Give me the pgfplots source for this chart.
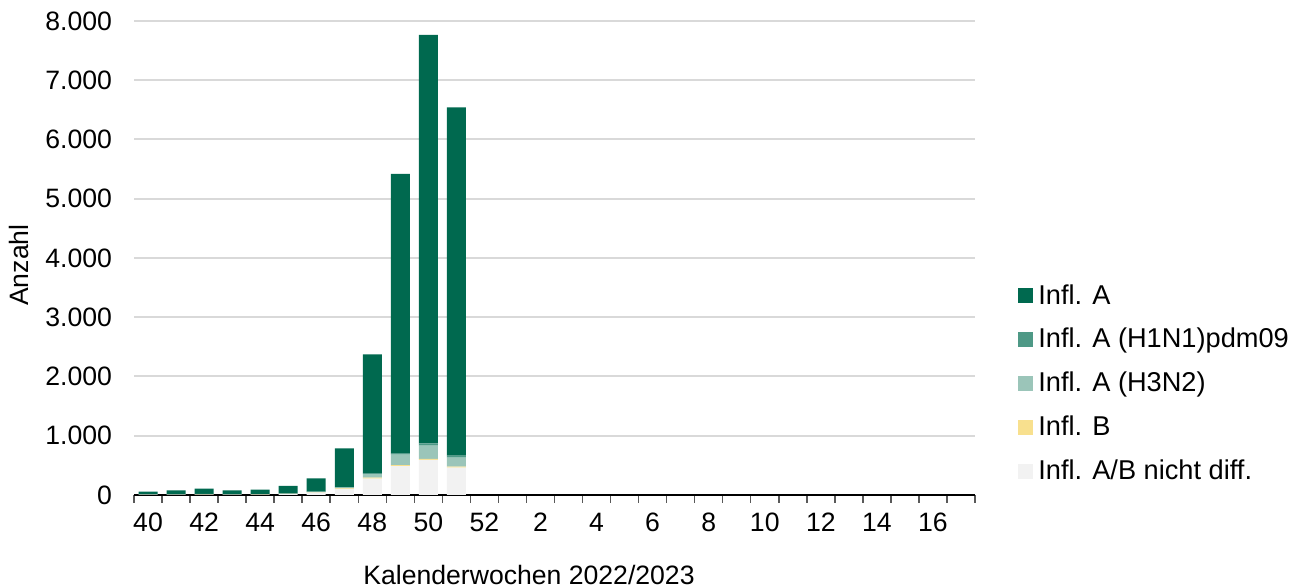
\documentclass[border=0pt]{standalone}
\usepackage{pgfplots}
\pgfplotsset{compat=1.18}
\usepackage{pgfplotstable}
\usepackage{fontspec}
\setmainfont{Liberation Sans}

\definecolor{inflA}{RGB}{0,105,79}
\definecolor{inflH1}{RGB}{78,153,134}
\definecolor{inflH3}{RGB}{155,197,185}
\definecolor{inflB}{RGB}{248,224,142}
\definecolor{inflND}{RGB}{242,242,242}
\definecolor{gridgray}{RGB}{217,217,217}

% week index (0 = KW 40), nicht diff, B, H3N2, H1N1pdm09, A
\pgfplotstableread{
idx ND  B  H3  H1  A
0   5   1  3   2   45
1   5   1  3   2   68
2   8   2  5   2   90
3   6   2  3   1   67
4   8   2  4   1   75
5   15  3  5   2   127
6   40  5  8   3   225
7   100 10 15  5   658
8   275 17 62  8   2012
9   489 17 174 17  4721
10  591 17 224 40  6892
11  461 17 152 33  5880
}\grippe

\newcommand{\lf}{\fontsize{13.6}{16}\selectfont}
\newcommand{\af}{\fontsize{13.3}{16}\selectfont}

\begin{document}
\begin{tikzpicture}
\useasboundingbox (0,0) rectangle (652pt,293.5pt);
\begin{axis}[
  at={(67pt,46pt)}, anchor=south west,
  scale only axis, width=420.5pt, height=237pt,
  ybar stacked, bar width=9.5pt,
  xmin=-0.5, xmax=29.5, ymin=0, ymax=8000,
  axis x line*=bottom, axis y line*=left,
  separate axis lines,
  x axis line style={black, line width=0.75pt},
  y axis line style={draw=none},
  xtick={0,2,...,28},
  xticklabels={40,42,44,46,48,50,52,2,4,6,8,10,12,14,16},
  minor xtick={-0.5,0.5,...,29.5},
  tick align=outside,
  major tick length=0pt, minor tick length=4pt,
  minor tick style={black!65, line width=0.75pt},
  ytick={0,1000,...,8000},
  ytick style={draw=none},
  ymajorgrids, grid style={gridgray, line width=1pt},
  scaled y ticks=false,
  /pgf/number format/.cd, set thousands separator={.}, assume math mode=true,
  /pgfplots/.cd,
  every tick label/.append style={font=\af},
  yticklabel style={xshift=-7.5pt},
  xticklabel style={yshift=-5.5pt},
  label style={font=\af},
  xlabel={Kalenderwochen 2022/2023},
  xlabel style={at={(axis description cs:0.4697,-0.1688)}, anchor=center},
  ylabel={Anzahl},
  ylabel style={at={(axis description cs:-0.1370,0.485)}, anchor=center},
  reverse legend,
  legend cell align=left,
  legend image code/.code={\fill[#1] (0pt,-2.85pt) rectangle (7.5pt,4.65pt);},
  legend style={at={(axis description cs:1.0511,0.4435)}, anchor=north west,
    draw=none, fill=none, inner sep=0pt, row sep=9.4pt, column sep=2.5pt,
    font=\lf,
    nodes={inner sep=0pt, text height=9.5pt, text depth=3pt}},
]
\addplot[fill=inflND, draw=none] table[x=idx, y=ND] {\grippe};
\addplot[fill=inflB, draw=none] table[x=idx, y=B] {\grippe};
\addplot[fill=inflH3, draw=none] table[x=idx, y=H3] {\grippe};
\addplot[fill=inflH1, draw=none] table[x=idx, y=H1] {\grippe};
\addplot[fill=inflA, draw=none] table[x=idx, y=A] {\grippe};
\legend{Infl. A/B nicht diff., Infl. B, Infl. A (H3N2), Infl. A (H1N1)pdm09, Infl. A}
\end{axis}
\end{tikzpicture}
\end{document}
